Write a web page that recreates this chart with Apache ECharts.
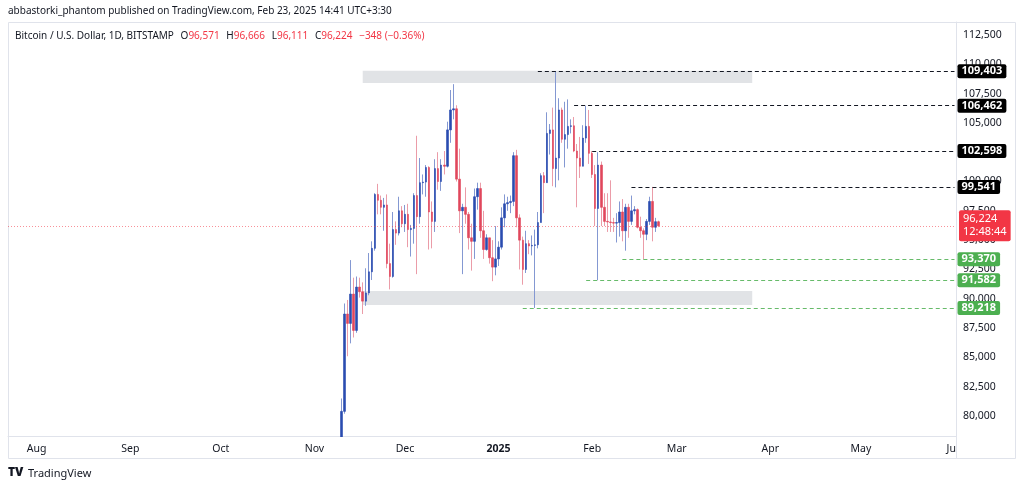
<!DOCTYPE html>
<html>
<head>
<meta charset="utf-8">
<script src="https://cdn.jsdelivr.net/npm/echarts@6/dist/echarts.min.js"></script>
<style>
  html, body { margin: 0; padding: 0; background: #ffffff; }
  #chart { width: 1024px; height: 490px; }
</style>
</head>
<body>
<div id="chart"></div>
<script>
// daily BTC/USD candles, Bitstamp, from 2024-11-10 to 2025-02-23
const firstCandle = '2024-11-10'
const opens = [
  76700, 80400, 88700, 87900, 90400, 87300, 91000, 90600, 89800, 90500, 92300, 94300, 98900, 98400, 97800, 98000, 93000, 91900, 95900, 95600, 97500,
  96400, 97200, 95900, 96000, 98800, 97000, 99900, 99950, 101200, 97400, 96600, 101100, 100000, 101400, 101300, 104400, 106100, 106200, 100200, 97500,
  97800, 97200, 95200, 94900, 98700, 99400, 95800, 94200, 95200, 93500, 92700,
  93400, 94400, 96900, 98100, 98200, 98300, 102200, 96900, 95000, 92500, 94700, 94500, 94550, 94600, 96500, 100500, 99900, 104100, 104400, 101100,
  102000, 106100, 103600, 104000, 104700, 104750, 102600, 102000, 101300, 103700, 104700,
  102400, 100600, 97700, 101400, 97800, 96600, 96550, 96500, 96450, 96500, 97400, 95800, 97800, 96600, 97500, 97600, 96100, 95800, 95500, 96600,
  98300, 96100, 96571
]
const highs = [
  81500, 89600, 89900, 93300, 91800, 91900, 91800, 91400, 92600, 93900, 94900, 99000, 99800, 98800, 98600, 98900, 94700, 97400, 96600, 98700, 97900,
  98000, 98100, 96300, 99000, 103900, 102000, 100600, 101400, 101300, 98300, 101900, 102500, 101900, 102600, 105100, 107800, 108300, 106500, 102800, 98100,
  99500, 97400, 96400, 99400, 99900, 99900, 97500, 95500, 95200, 95000, 96200,
  94900, 97800, 98900, 98700, 98800, 102500, 102700, 97200, 95300, 95800, 95000, 95400, 95900, 97400, 100700, 100800, 105900, 104900, 106300, 109403,
  107100, 106300, 106800, 107000, 105300, 105500, 103200, 103800, 104800, 106462, 106100,
  102598, 101400, 102500, 101700, 99000, 99000, 100100, 96900, 97300, 98300, 98500, 98100, 98100, 98800, 97900, 97700, 97000, 96000, 96800, 98700,
  99541, 96900, 96666
]
const lows = [
  76500, 80200, 85100, 86200, 86700, 87100, 90100, 88700, 89400, 90300, 91600, 94100, 97200, 97200, 95800, 92600, 90800, 91800, 94600, 95400, 96100,
  95700, 94400, 93600, 94700, 92100, 96400, 98900, 98700, 94200, 94300, 95700, 99300, 99200, 100600, 101200, 103300, 105300, 100000, 95600, 92100,
  96400, 94200, 92400, 93400, 97600, 95200, 93400, 94100, 93000, 91500, 92000,
  92800, 94200, 96100, 97500, 97300, 97900, 96100, 92500, 91200, 92200, 93800, 93700, 89218, 94300, 96500, 97300, 99900, 102300, 99600, 99500,
  100100, 103300, 101200, 102800, 104100, 102500, 97800, 100300, 101300, 103300, 101500,
  100300, 96200, 91582, 96200, 96200, 95700, 95700, 95700, 94800, 95300, 94900, 94100, 95200, 96300, 97200, 96000, 95200, 93370, 95000, 96300,
  94900, 95700, 96111
]
const closes = [
  80400, 88700, 87900, 90400, 87300, 91000, 90600, 89800, 90500, 92300, 94300, 98900, 98400, 97800, 98000, 93000, 91900, 95900, 95600, 97500, 96400,
  97200, 95900, 96000, 98800, 97000, 99900, 99950, 101200, 97400, 96600, 101100, 100000, 101400, 101300, 104400, 106100, 106200, 100200, 97500, 97800,
  97200, 95200, 94900, 98700, 99400, 95800, 94200, 95200, 93500, 92700, 93400,
  94400, 96900, 98100, 98200, 98300, 102200, 96900, 95000, 92500, 94700, 94500, 94550, 94600, 96500, 100500, 99900, 104100, 104400, 101100, 102000,
  106100, 103600, 104000, 104700, 104750, 102600, 102000, 101300, 103700, 104700, 102400,
  100600, 97700, 101400, 97800, 96600, 96550, 96500, 96450, 96500, 97400, 95800, 97800, 96600, 97500, 97600, 96100, 95800, 95500, 96600, 98300,
  96100, 96572, 96224
]

// horizontal levels drawn on the chart
const resistLevels = [109403, 106462, 102598, 99541]
const resistFrom = ['2025-01-14', '2025-01-26', '2025-02-01', '2025-02-14']
const supportLevels = [93370, 91582, 89218]
const supportFrom = ['2025-02-11', '2025-01-30', '2025-01-09']
const zoneHigh = [108400, 109450]
const zoneLow = [89470, 90670]
const zoneFrom = '2024-11-17'
const zoneTo = '2025-03-26'
const countdown = '12:48:44'

const priceTicks = [80000, 82500, 85000, 87500, 90000, 92500, 95000, 97500, 100000, 102500, 105000, 107500, 110000, 112500]
const monthNames = ['Jan', 'Feb', 'Mar', 'Apr', 'May', 'Jun', 'Jul', 'Aug', 'Sep', 'Oct', 'Nov', 'Dec']

const UP = '#2a4cb0'
const DOWN = '#e0475c'
const UP_WICK = '#8498d2'
const DOWN_WICK = '#eb9ca8'
const RED = '#f23645'
const GREEN = '#4caf50'
const FONT = 'Noto Sans'

function dayStr(d) {
  return d.toISOString().slice(0, 10)
}

// axis days Jul 23 2024 .. Jun 1 2025
const days = []
for (let d = new Date(Date.UTC(2024, 6, 23)); d <= new Date(Date.UTC(2025, 5, 1)); d.setUTCDate(d.getUTCDate() + 1)) {
  days.push(dayStr(d))
}
const startIdx = days.indexOf(firstCandle)
const candleDays = opens.map((_, i) => days[startIdx + i])

const fullCandles = opens.map((o, i) => [candleDays[i], o, closes[i], lows[i], highs[i]])
const bodies = opens.map((o, i) => [candleDays[i], o, closes[i], Math.min(o, closes[i]), Math.max(o, closes[i])])

const fmt = v => Math.round(v).toLocaleString('en-US')
const n = closes.length
const lastO = opens[n - 1], lastH = highs[n - 1], lastL = lows[n - 1], lastC = closes[n - 1]
const chg = lastC - closes[n - 2]
const chgPct = (chg / closes[n - 2] * 100).toFixed(2)
const minus = '\u2212'

const tag = (bg, v) => ({
  show: true,
  position: 'end',
  distance: 3,
  formatter: fmt(v),
  color: '#ffffff',
  backgroundColor: bg,
  padding: [2, 4, 1, 4],
  borderRadius: 2,
  fontFamily: FONT,
  fontSize: 11,
  fontWeight: 'bold'
})

const lastDay = days[days.length - 1]
const markLines = []
resistLevels.forEach((v, i) => {
  markLines.push([
    { coord: [resistFrom[i], v], lineStyle: { color: '#131722', type: [4, 3], width: 1 }, label: tag('#000000', v) },
    { coord: [lastDay, v] }
  ])
})
supportLevels.forEach((v, i) => {
  markLines.push([
    { coord: [supportFrom[i], v], lineStyle: { color: 'rgba(76,175,80,0.85)', type: [4, 3], width: 1 }, label: tag(GREEN, v) },
    { coord: [lastDay, v] }
  ])
})

const chart = echarts.init(document.getElementById('chart'), null, { renderer: 'canvas' })
chart.setOption({
  animation: false,
  backgroundColor: '#ffffff',
  textStyle: { fontFamily: FONT },
  grid: { left: 8, right: 68, top: 22, bottom: 54 },
  xAxis: {
    type: 'category',
    data: days,
    boundaryGap: true,
    axisLine: { show: true, lineStyle: { color: '#e0e3eb' } },
    axisTick: { show: false },
    splitLine: { show: false },
    axisLabel: {
      interval: (i, v) => v.slice(8) === '01',
      formatter: v => {
        const m = +v.slice(5, 7)
        return m === 1 ? '{y|' + v.slice(0, 4) + '}' : monthNames[m - 1]
      },
      color: '#131722',
      fontSize: 10.5,
      margin: 8,
      rich: { y: { fontWeight: 'bold', fontSize: 10.5, color: '#131722' } }
    }
  },
  yAxis: {
    type: 'value',
    position: 'right',
    min: 78300,
    max: 113600,
    scale: true,
    axisLine: { show: true, lineStyle: { color: '#e0e3eb' } },
    axisTick: { show: false },
    splitLine: { show: false },
    axisLabel: {
      customValues: priceTicks,
      formatter: v => fmt(v),
      color: '#131722',
      fontSize: 10.5,
      margin: 7
    }
  },
  series: [
    {
      type: 'candlestick',
      name: 'wicks',
      data: fullCandles,
      encode: { x: 0, y: [1, 2, 3, 4] },
      barWidth: 1,
      itemStyle: { color: UP_WICK, color0: DOWN_WICK, borderColor: UP_WICK, borderColor0: DOWN_WICK, borderWidth: 1 },
      markArea: {
        silent: true,
        itemStyle: { color: 'rgba(205,208,214,0.6)' },
        data: [
          [{ coord: [zoneFrom, zoneHigh[0]] }, { coord: [zoneTo, zoneHigh[1]] }],
          [{ coord: [zoneFrom, zoneLow[0]] }, { coord: [zoneTo, zoneLow[1]] }]
        ]
      }
    },
    {
      type: 'candlestick',
      name: 'bodies',
      data: bodies,
      encode: { x: 0, y: [1, 2, 3, 4] },
      barWidth: 2,
      itemStyle: { color: UP, color0: DOWN, borderColor: UP, borderColor0: DOWN, borderWidth: 0.6 }
    },
    {
      type: 'line',
      name: 'levels',
      data: [],
      clip: false,
      markLine: {
        silent: true,
        symbol: 'none',
        data: markLines.concat([
          {
            yAxis: lastC,
            lineStyle: { color: 'rgba(242,54,69,0.55)', type: [1, 2], width: 1 },
            label: {
              show: true,
              position: 'end',
              distance: 3,
              formatter: fmt(lastC) + '\n' + countdown,
              color: '#ffffff',
              backgroundColor: RED,
              padding: [3, 4, 2, 4],
              borderRadius: 2,
              lineHeight: 13,
              fontFamily: FONT,
              fontSize: 11
            }
          }
        ])
      }
    }
  ],
  graphic: [
    {
      type: 'text', left: 8, top: 6,
      style: { text: 'abbastorki_phantom published on TradingView.com, Feb 23, 2025 14:41 UTC+3:30', fill: '#131722', font: '10px "Noto Sans"' }
    },
    {
      type: 'rect', shape: { x: 8.5, y: 22.5, width: 1007, height: 436 },
      style: { fill: 'none', stroke: '#e0e3eb', lineWidth: 1 }, z: -1
    },
    {
      // hides the part of the first candle that falls below the price range
      type: 'rect', shape: { x: 330, y: 437, width: 60, height: 21 },
      style: { fill: '#ffffff' }, z: 5
    },
    {
      // price scale panel cuts the last month label
      type: 'rect', shape: { x: 957, y: 437, width: 58, height: 21 },
      style: { fill: '#ffffff' }, z: 5
    },
    {
      type: 'line', shape: { x1: 956.5, y1: 436, x2: 956.5, y2: 458 },
      style: { stroke: '#e0e3eb', lineWidth: 1 }, z: 6
    },
    {
      type: 'text', left: 15, top: 30,
      style: {
        text: '{t|Bitcoin / U.S. Dollar, 1D, BITSTAMP}  {t|O}{r|' + fmt(lastO) + '}  {t|H}{r|' + fmt(lastH) +
          '}  {t|L}{r|' + fmt(lastL) + '}  {t|C}{r|' + fmt(lastC) + '}  {r|' + (chg < 0 ? minus : '+') + fmt(Math.abs(chg)) +
          ' (' + (chg < 0 ? minus : '+') + Math.abs(chgPct) + '%)}',
        rich: {
          t: { fill: '#131722', fontSize: 10, fontFamily: FONT },
          r: { fill: RED, fontSize: 10, fontFamily: FONT }
        }
      }
    },
    {
      type: 'text', left: 8, top: 467,
      style: { text: 'TV', fill: '#131722', font: '900 12px "Noto Sans"' }
    },
    {
      type: 'text', left: 28, top: 468,
      style: { text: 'TradingView', fill: '#131722', font: '11px "Noto Sans"' }
    }
  ]
})
</script>
</body>
</html>
